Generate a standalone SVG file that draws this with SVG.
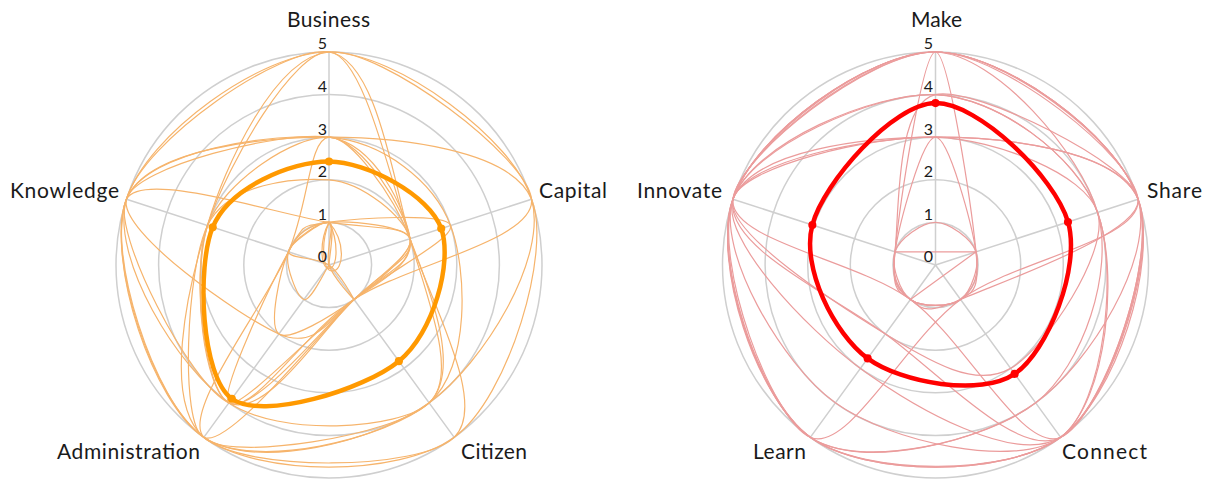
<svg xmlns="http://www.w3.org/2000/svg" width="1208" height="480" viewBox="0 0 1208 480">
<style>
.grid{fill:none;stroke:#cfcfcf;stroke-width:1.5;vector-effect:non-scaling-stroke}
.to{fill:none;stroke:#f6b46c;stroke-width:1.2;vector-effect:non-scaling-stroke}
.tr{fill:none;stroke:#eb9c9c;stroke-width:1.2;vector-effect:non-scaling-stroke}
.bo{fill:none;stroke:#ff9900;stroke-width:4.5;stroke-linejoin:round;vector-effect:non-scaling-stroke}
.br{fill:none;stroke:#ff0000;stroke-width:4.5;stroke-linejoin:round;vector-effect:non-scaling-stroke}
.lab{font-family:Lato,'Noto Sans',sans-serif;font-size:21px;fill:#1a1a1a}
.tick{font-family:Lato,'Noto Sans',sans-serif;font-size:16px;fill:#1a1a1a;text-anchor:end}
</style>
<defs>
<g id="gridshape">
<circle class="grid" r="1"/><circle class="grid" r="2"/><circle class="grid" r="3"/><circle class="grid" r="4"/><circle class="grid" r="5"/>
<path class="grid" d="M0,0L0,-5M0,0L4.755,-1.545M0,0L2.939,4.045M0,0L-2.939,4.045M0,0L-4.755,-1.545"/>
</g>
</defs>
<g id="chart-left">
<g id="left-grid" transform="translate(329,265) scale(42.6)"><use href="#gridshape"/></g>
<g id="left-series" transform="translate(329,265) scale(42.6)">
<path class="to" d="M0,-5C1.585,-5 4.363,-2.918 4.755,-1.545C5.147,-0.172 3.633,2.304 2.351,3.236C1.069,4.168 -1.755,4.842 -2.939,4.045C-4.123,3.248 -5.245,-0.037 -4.755,-1.545C-4.265,-3.053 -1.585,-5 0,-5Z"/>
<path class="to" d="M0,-5C1.110,-4.845 1.510,-1.991 1.902,-0.618C2.294,0.755 3.060,2.594 2.351,3.236C1.642,3.878 -1.167,4.033 -2.351,3.236C-3.535,2.439 -5.147,-0.172 -4.755,-1.545C-4.363,-2.918 -1.110,-5.155 0,-5Z"/>
<path class="to" d="M0,-5C0.793,-4.948 1.412,-2.126 1.902,-0.618C2.392,0.890 3.746,3.268 2.939,4.045C2.132,4.822 -1.974,4.874 -2.939,4.045C-3.904,3.216 -3.343,0.581 -2.853,-0.927C-2.363,-2.435 -0.793,-5.052 0,-5Z"/>
<path class="to" d="M0,-5C1.268,-5.103 4.657,-2.513 4.755,-1.545C4.853,-0.577 1.772,0.012 0.588,0.809C-0.596,1.606 -1.777,3.525 -2.351,3.236C-2.925,2.947 -3.245,0.446 -2.853,-0.927C-2.461,-2.300 -1.268,-4.897 0,-5Z"/>
<path class="to" d="M0,-3C1.585,-3 4.265,-2.719 4.755,-1.545C5.245,-0.371 4.221,3.113 2.939,4.045C1.657,4.977 -1.657,4.977 -2.939,4.045C-4.221,3.113 -5.245,-0.371 -4.755,-1.545C-4.265,-2.719 -1.585,-3 0,-3Z"/>
<path class="to" d="M0,-3C0.476,-3.052 1.510,-1.657 1.902,-0.618C2.294,0.421 3.158,2.459 2.351,3.236C1.544,4.013 -2.389,4.636 -2.939,4.045C-3.489,3.454 -1.441,0.865 -0.951,-0.309C-0.461,-1.483 -0.476,-2.948 0,-3Z"/>
<path class="to" d="M0,-3C0.793,-2.948 1.804,-1.253 1.902,-0.618C2.000,0.017 1.297,0.167 0.588,0.809C-0.121,1.451 -1.777,3.525 -2.351,3.236C-2.925,2.947 -3.245,0.112 -2.853,-0.927C-2.461,-1.966 -0.793,-3.052 0,-3Z"/>
<path class="to" d="M0,-3C1.268,-2.897 2.461,-1.966 2.853,-0.927C3.245,0.112 3.316,2.407 2.351,3.236C1.386,4.065 -1.755,4.842 -2.939,4.045C-4.123,3.248 -5.245,-0.371 -4.755,-1.545C-4.265,-2.719 -1.268,-3.103 0,-3Z"/>
<path class="to" d="M0,-2C0.793,-1.948 1.804,-1.086 1.902,-0.618C2.000,-0.150 1.395,0.032 0.588,0.809C-0.219,1.586 -2.365,4.334 -2.939,4.045C-3.513,3.756 -3.343,0.081 -2.853,-0.927C-2.363,-1.935 -0.793,-2.052 0,-2Z"/>
<path class="to" d="M0,-1C0.159,-0.948 -0.098,-0.302 0,0C0.098,0.302 0.588,0.809 0.588,0.809C0.588,0.809 0.257,0.186 0,0C-0.257,-0.186 -0.951,-0.142 -0.951,-0.309C-0.951,-0.476 -0.159,-1.052 0,-1Z"/>
<path class="to" d="M0,-1C0.159,-0.948 0,-0.167 0,0C0,0.167 0,0 0,0C-0.098,0.135 -0.429,0.861 -0.588,0.809C-0.747,0.757 -1.049,-0.007 -0.951,-0.309C-0.853,-0.611 -0.159,-1.052 0,-1Z"/>
<path class="to" d="M0,-1C0.22,-0.6 0.22,0.08 0,0.08C-0.22,0.08 -0.22,-0.6 0,-1Z"/>
<path class="to" d="M0,-1C0.4,-0.55 0.35,0.14 0.08,0.14C-0.15,0.14 -0.2,-0.5 0,-1Z"/>
<path class="to" d="M0,-1C0.634,-1.103 2.755,-1.229 2.853,-0.927C2.951,-0.625 1.455,0.115 0.588,0.809C-0.279,1.503 -2.094,3.422 -2.351,3.236C-2.608,3.050 -1.343,0.397 -0.951,-0.309C-0.559,-1.015 -0.634,-0.897 0,-1Z"/>
<path class="to" d="M0,-1C1.110,-0.845 1.804,-0.920 1.902,-0.618C2.000,-0.316 1.297,0.167 0.588,0.809C-0.121,1.451 -1.460,3.628 -2.351,3.236C-3.242,2.844 -5.147,-0.839 -4.755,-1.545C-4.363,-2.251 -1.110,-1.155 0,-1Z"/>
<path class="to" d="M0,-1C0.476,-1.052 1.804,-0.920 1.902,-0.618C2.000,-0.316 1.101,0.436 0.588,0.809C0.075,1.182 -0.919,1.804 -1.176,1.618C-1.433,1.432 -1.147,0.127 -0.951,-0.309C-0.755,-0.745 -0.476,-0.948 0,-1Z"/>
<path class="to" d="M0,-3C1.110,-2.845 1.804,-1.253 1.902,-0.618C2.000,0.017 1.101,0.436 0.588,0.809C0.075,1.182 -0.285,2.010 -1.176,1.618C-2.067,1.226 -4.951,-0.775 -4.755,-1.545C-4.559,-2.315 -1.110,-3.155 0,-3Z"/>
</g>
<g id="left-average" transform="translate(329,265) scale(42.6)">
<path class="bo" d="M0,-2.43C0.894,-2.425 2.3611,-1.6372 2.6344,-0.856C2.9077,-0.0748 2.4591,1.5914 1.6399,2.2572C0.8207,2.923 -1.5524,3.663 -2.2806,3.139C-3.0088,2.615 -3.1096,0.0413 -2.7295,-0.8869C-2.3494,-1.8151 -0.894,-2.4352 0,-2.43Z"/>
<g fill="#ff9900"><circle cx="0" cy="-2.43" r="0.095"/><circle cx="2.6344" cy="-0.856" r="0.095"/><circle cx="1.6399" cy="2.2572" r="0.095"/><circle cx="-2.2806" cy="3.139" r="0.095"/><circle cx="-2.7295" cy="-0.8869" r="0.095"/></g>
</g>
<g id="left-ticks">
<text class="tick" x="327" y="49">5</text><text class="tick" x="327" y="92">4</text><text class="tick" x="327" y="135">3</text><text class="tick" x="327" y="177">2</text><text class="tick" x="327" y="220">1</text><text class="tick" x="327" y="262">0</text>
</g>
<g id="left-labels">
<text class="lab" x="287" y="27" textLength="83">Business</text>
<text class="lab" x="539" y="198" textLength="68">Capital</text>
<text class="lab" x="461" y="459" textLength="66">Citizen</text>
<text class="lab" x="57" y="459" textLength="143">Administration</text>
<text class="lab" x="10" y="198" textLength="109">Knowledge</text>
</g>
</g>
<g id="chart-right">
<g id="right-grid" transform="translate(935.5,265) scale(42.6)"><use href="#gridshape"/></g>
<g id="right-series" transform="translate(935.5,265) scale(42.6)">
<path class="tr" d="M0,-5C1.585,-5 4.265,-3.053 4.755,-1.545C5.245,-0.037 4.221,3.113 2.939,4.045C1.657,4.977 -1.657,4.977 -2.939,4.045C-4.221,3.113 -5.245,-0.037 -4.755,-1.545C-4.265,-3.053 -1.585,-5 0,-5Z"/>
<path class="tr" d="M0,-3C1.585,-3 4.265,-2.719 4.755,-1.545C5.245,-0.371 4.221,3.113 2.939,4.045C1.657,4.977 -1.657,4.977 -2.939,4.045C-4.221,3.113 -5.245,-0.371 -4.755,-1.545C-4.265,-2.719 -1.585,-3 0,-3Z"/>
<path class="tr" d="M0,-4C1.427,-3.948 3.314,-2.577 3.804,-1.236C4.294,0.105 4.063,3.165 2.939,4.045C1.815,4.925 -1.657,4.977 -2.939,4.045C-4.221,3.113 -5.245,-0.204 -4.755,-1.545C-4.265,-2.886 -1.427,-4.052 0,-4Z"/>
<path class="tr" d="M0,-5C1.427,-4.948 3.412,-2.609 3.804,-1.236C4.196,0.137 3.475,2.356 2.351,3.236C1.227,4.116 -1.755,4.842 -2.939,4.045C-4.123,3.248 -5.245,-0.037 -4.755,-1.545C-4.265,-3.053 -1.427,-5.052 0,-5Z"/>
<path class="tr" d="M0,-3C1.427,-2.948 3.510,-2.141 3.804,-1.236C4.098,-0.331 2.593,1.951 1.763,2.427C0.933,2.903 -0.090,2.280 -1.176,1.618C-2.262,0.956 -4.951,-0.775 -4.755,-1.545C-4.559,-2.315 -1.427,-3.052 0,-3Z"/>
<path class="tr" d="M0,-5C1.585,-5 4.363,-2.918 4.755,-1.545C5.147,-0.172 3.633,2.304 2.351,3.236C1.069,4.168 -1.755,4.842 -2.939,4.045C-4.123,3.248 -5.245,-0.037 -4.755,-1.545C-4.265,-3.053 -1.585,-5 0,-5Z"/>
<path class="tr" d="M0,-1C0.317,-1 0.853,-0.611 0.951,-0.309C1.049,-0.007 0.844,0.623 0.588,0.809C0.331,0.995 -0.331,0.995 -0.588,0.809C-0.844,0.623 -1.049,-0.007 -0.951,-0.309C-0.853,-0.611 -0.317,-1 0,-1Z"/>
<path class="tr" d="M0,-5C1.585,-5 4.265,-3.053 4.755,-1.545C5.245,-0.037 3.928,3.518 2.939,4.045C1.950,4.572 0.106,2.550 -1.176,1.618C-2.458,0.686 -4.951,-0.442 -4.755,-1.545C-4.559,-2.648 -1.585,-5 0,-5Z"/>
<path class="tr" d="M0,-3C1.585,-3 4.265,-2.719 4.755,-1.545C5.245,-0.371 4.025,3.383 2.939,4.045C1.853,4.707 -0.481,3.359 -1.763,2.427C-3.045,1.495 -5.049,-0.640 -4.755,-1.545C-4.461,-2.450 -1.585,-3 0,-3Z"/>
<path class="tr" d="M0,-4C0.951,-4.206 4.657,-2.347 4.755,-1.545C4.853,-0.743 1.479,0.417 0.588,0.809C-0.303,1.201 -0.331,0.995 -0.588,0.809C-0.845,0.623 -1.049,0.493 -0.951,-0.309C-0.853,-1.111 -0.951,-3.794 0,-4Z"/>
<path class="tr" d="M0,-3C0.317,-3 0.853,-0.944 0.951,-0.309C1.049,0.326 0.845,0.623 0.588,0.809C0.331,0.995 -0.331,0.995 -0.588,0.809C-0.845,0.623 -1.049,0.326 -0.951,-0.309C-0.853,-0.944 -0.317,-3 0,-3Z"/>
<path class="tr" d="M0,-5C0.317,-5 0.853,-1.277 0.951,-0.309C1.049,0.659 0.845,0.623 0.588,0.809C0.331,0.995 -0.331,0.995 -0.588,0.809C-0.845,0.623 -1.049,0.659 -0.951,-0.309C-0.853,-1.277 -0.317,-5 0,-5Z"/>
<path class="tr" d="M0,-4C1.427,-3.948 3.314,-2.577 3.804,-1.236C4.294,0.105 3.965,3.300 2.939,4.045C1.913,4.790 -1.069,4.168 -2.351,3.236C-3.633,2.304 -5.147,-0.339 -4.755,-1.545C-4.363,-2.751 -1.427,-4.052 0,-4Z"/>
<path class="tr" d="M0,-5C1.585,-5 4.265,-3.053 4.755,-1.545C5.245,-0.037 3.830,3.653 2.939,4.045C2.048,4.437 0.694,1.741 -0.588,0.809C-1.870,-0.123 -4.853,-0.577 -4.755,-1.545C-4.657,-2.513 -1.585,-5 0,-5Z"/>
<path class="tr" d="M0,-5C1.585,-5 4.657,-2.513 4.755,-1.545C4.853,-0.577 1.870,-0.123 0.588,0.809C-0.694,1.741 -2.048,4.437 -2.939,4.045C-3.830,3.653 -5.245,-0.037 -4.755,-1.545C-4.265,-3.053 -1.585,-5 0,-5Z"/>
<path class="tr" d="M-0.951,-0.309L0.951,-0.309L-0.588,0.809"/>
</g>
<g id="right-average" transform="translate(935.5,265) scale(42.6)">
<path class="br" d="M0,-3.8C1.0002,-3.8119 2.8004,-2.0699 3.11,-1.0105C3.4196,0.0489 2.6412,2.0227 1.8574,2.5565C1.0736,3.0903 -0.8015,2.7751 -1.5929,2.1924C-2.3843,1.6097 -3.1567,0.0593 -2.8912,-0.9394C-2.6257,-1.9381 -1.0002,-3.7881 0,-3.8Z"/>
<g fill="#ff0000"><circle cx="0" cy="-3.8" r="0.095"/><circle cx="3.11" cy="-1.0105" r="0.095"/><circle cx="1.8574" cy="2.5565" r="0.095"/><circle cx="-1.5929" cy="2.1924" r="0.095"/><circle cx="-2.8912" cy="-0.9394" r="0.095"/></g>
</g>
<g id="right-ticks">
<text class="tick" x="933" y="49">5</text><text class="tick" x="933" y="92">4</text><text class="tick" x="933" y="135">3</text><text class="tick" x="933" y="177">2</text><text class="tick" x="933" y="220">1</text><text class="tick" x="933" y="262">0</text>
</g>
<g id="right-labels">
<text class="lab" x="911" y="27" textLength="51">Make</text>
<text class="lab" x="1147" y="198" textLength="55">Share</text>
<text class="lab" x="1062" y="459" textLength="85">Connect</text>
<text class="lab" x="753" y="459" textLength="53">Learn</text>
<text class="lab" x="637" y="198" textLength="85">Innovate</text>
</g>
</g>
</svg>
